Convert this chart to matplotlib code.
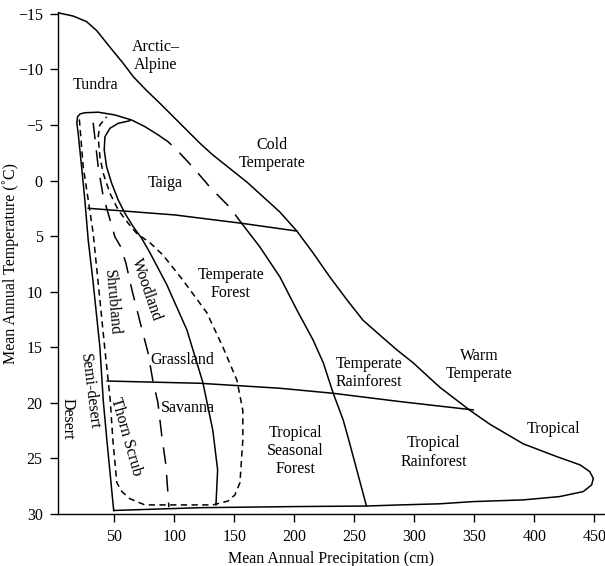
"""Whittaker-style biome diagram: mean annual temperature vs precipitation."""
import matplotlib

matplotlib.use("Agg")
import matplotlib.pyplot as plt

# outer boundary of all biomes, clockwise from the top-left corner
outer_precip = [3, 15.7, 26.8, 35.2, 46.3, 57.3, 65.7, 76.8, 87.9, 101.8, 121.3, 132,
                160.4, 187.9, 202, 215.4, 229.6, 243.8, 257, 271, 285.4, 298.8, 321,
                347, 363, 390.6, 418.5, 438, 446, 449, 447.6, 440.6, 421, 390.6, 349,
                321, 288, 260, 200, 121, 49.6]
outer_temp = [-15.1, -14.8, -14.3, -13.5, -12.0, -10.55, -9.35, -8.1, -6.95, -5.45, -3.35,
              -2.3, 0.14, 2.84, 4.55, 6.5, 8.7, 10.75, 12.56, 13.9, 15.25, 16.4, 18.6,
              20.75, 21.95, 23.7, 24.85, 25.6, 26.2, 26.8, 27.4, 28.0, 28.45, 28.75,
              28.9, 29.1, 29.2, 29.3, 29.35, 29.45, 29.7]

# desert / semi-desert edge, running up and over the top of the tundra loop
desert_precip = [49.4, 43.75, 40.7, 37.9, 32.1, 28.2, 25.4, 22.7, 19.8, 18.7, 19.3, 21.5,
                 25.4, 36.5, 50.4, 64.3, 75.4, 86.5]
desert_temp = [29.7, 23.4, 19.8, 15.0, 9.0, 5.4, 1.8, -1.2, -4.25, -5.2, -5.75, -6.0,
               -6.1, -6.15, -5.9, -5.45, -4.85, -4.1]

# seasonal forest / rainforest edge (dashed upper part, solid lower part)
rain_dash_precip = [86.5, 94.6, 102, 115.4, 129.6, 146, 156]
rain_dash_temp = [-4.1, -3.5, -2.75, -1.2, 0.6, 2.4, 3.85]
rain_solid_precip = [156, 171, 188, 202, 215.5, 224, 232.3, 240.6, 246, 260]
rain_solid_temp = [3.85, 5.95, 8.7, 11.65, 14.35, 16.4, 19.15, 21.55, 23.65, 29.3]

# taiga / woodland edge
taiga_precip = [62.9, 53.2, 46.25, 42.1, 41.5, 43.5, 47.7, 53.2, 58.75, 65.7, 72.7, 79.6,
                93.75, 110.4, 123.75, 132, 136, 134.6]
taiga_temp = [-5.38, -5.15, -4.7, -3.94, -2.75, -1.24, 0.25, 1.76, 2.95, 4.16, 5.2, 6.5,
              9.4, 13.45, 18.2, 22.5, 26.05, 29.2]

# short-dashed U (thorn scrub / shrubland and grassland edges)
scrub_precip = [20.8, 24, 28.2, 32.3, 37.9, 42.1, 46.5, 48.75, 52, 56.25, 63, 75.4, 132,
                144.6, 150.4, 154.6, 157, 157, 152, 140.4, 127, 107, 90.4, 79.6, 68.5,
                61.5, 53.2, 46.25, 40.7, 37.9, 36.5, 37.9, 43.5]
scrub_temp = [-5.5, -1.24, 1.76, 4.75, 10.75, 15.25, 19.75, 23.4, 27.2, 28.0, 28.65, 29.2,
              29.2, 28.85, 28.3, 27.2, 23.35, 20.7, 17.95, 15.0, 11.9, 8.96, 6.7, 5.6,
              4.75, 3.85, 2.66, 1.15, -0.65, -2.14, -3.94, -5.0, -5.74]

# long-dashed woodland / shrubland and savanna / thorn scrub edge
wood_precip = [32.3, 36.5, 40.7, 44.8, 50.4, 55.4, 59.6, 64.6, 72, 78, 82, 86.25, 89.6,
               92.9, 95.4]
wood_temp = [-5.2, -1.24, 1.46, 2.95, 5.06, 6.0, 7.45, 9.85, 13.0, 15.5, 18.0, 20.0, 23.1,
             25.6, 29.4]

# the two near-horizontal climate band lines
upper_band_precip = [28.2, 100.4, 156, 202]
upper_band_temp = [2.5, 3.1, 3.85, 4.55]
lower_band_precip = [44, 121, 188, 232, 288, 349]
lower_band_temp = [18.05, 18.25, 18.7, 19.15, 19.9, 20.65]

x_ticks = [50, 100, 150, 200, 250, 300, 350, 400, 450]
y_ticks = [-15, -10, -5, 0, 5, 10, 15, 20, 25, 30]

# (label, precipitation, temperature, rotation)
biome_labels = [
    ("Arctic\u2013\nAlpine", 84.6, -11.2, 0),
    ("Tundra", 34.6, -8.6, 0),
    ("Cold\nTemperate", 181.3, -2.4, 0),
    ("Taiga", 92, 0.2, 0),
    ("Temperate\nForest", 147, 9.3, 0),
    ("Woodland", 77, 9.85, -71),
    ("Shrubland", 48, 11.0, -85),
    ("Grassland", 106.7, 16.2, 0),
    ("Savanna", 110.8, 20.5, 0),
    ("Semi-desert", 29.6, 19.0, -83),
    ("Desert", 10.8, 21.4, -90),
    ("Thorn Scrub", 60, 23.1, -74),
    ("Tropical\nSeasonal\nForest", 201, 24.35, 0),
    ("Temperate\nRainforest", 262, 17.3, 0),
    ("Warm\nTemperate", 353.8, 16.6, 0),
    ("Tropical\nRainforest", 316, 24.5, 0),
    ("Tropical", 416, 22.4, 0),
]

plt.rcParams["font.family"] = ["Liberation Serif", "DejaVu Serif"]
plt.rcParams["lines.scale_dashes"] = False

LW = 1.1
LONG = (12, 8)
SHORT = (4.5, 3.2)

fig = plt.figure(figsize=(6.05, 5.66), dpi=100)
ax = fig.add_axes([58 / 605, 52.2 / 566, 1 - 58 / 605, (513.8 - 12.2) / 566])

ax.plot(outer_precip, outer_temp, color="black", lw=LW)
ax.plot(desert_precip, desert_temp, color="black", lw=LW)
ax.plot(rain_dash_precip, rain_dash_temp, color="black", lw=LW, dashes=LONG)
ax.plot(rain_solid_precip, rain_solid_temp, color="black", lw=LW)
ax.plot(taiga_precip, taiga_temp, color="black", lw=LW)
ax.plot(scrub_precip, scrub_temp, color="black", lw=LW, dashes=SHORT)
ax.plot(wood_precip, wood_temp, color="black", lw=LW, dashes=LONG)
ax.plot(upper_band_precip, upper_band_temp, color="black", lw=LW)
ax.plot(lower_band_precip, lower_band_temp, color="black", lw=LW)

for text, px, ty, rot in biome_labels:
    ax.text(px, ty, text, ha="center", va="center", rotation=rot,
            fontsize=11.5, linespacing=1.2)

ax.set_xlim(3, 458.75)
ax.set_ylim(30, -15.15)
ax.set_xticks(x_ticks)
ax.set_yticks(y_ticks)
ax.spines["top"].set_visible(False)
ax.spines["right"].set_visible(False)
for side in ("left", "bottom"):
    ax.spines[side].set_linewidth(1.0)
ax.tick_params(direction="out", length=6, width=1.0, labelsize=11.5, pad=5)
ax.set_xlabel("Mean Annual Precipitation (cm)", fontsize=11.5)
ax.set_ylabel("Mean Annual Temperature (\u02daC)", fontsize=11.5)
ax.xaxis.set_label_coords(0.5, -0.074)
ax.yaxis.set_label_coords(-0.072, 0.5)

fig.savefig("out.png", dpi=100)
